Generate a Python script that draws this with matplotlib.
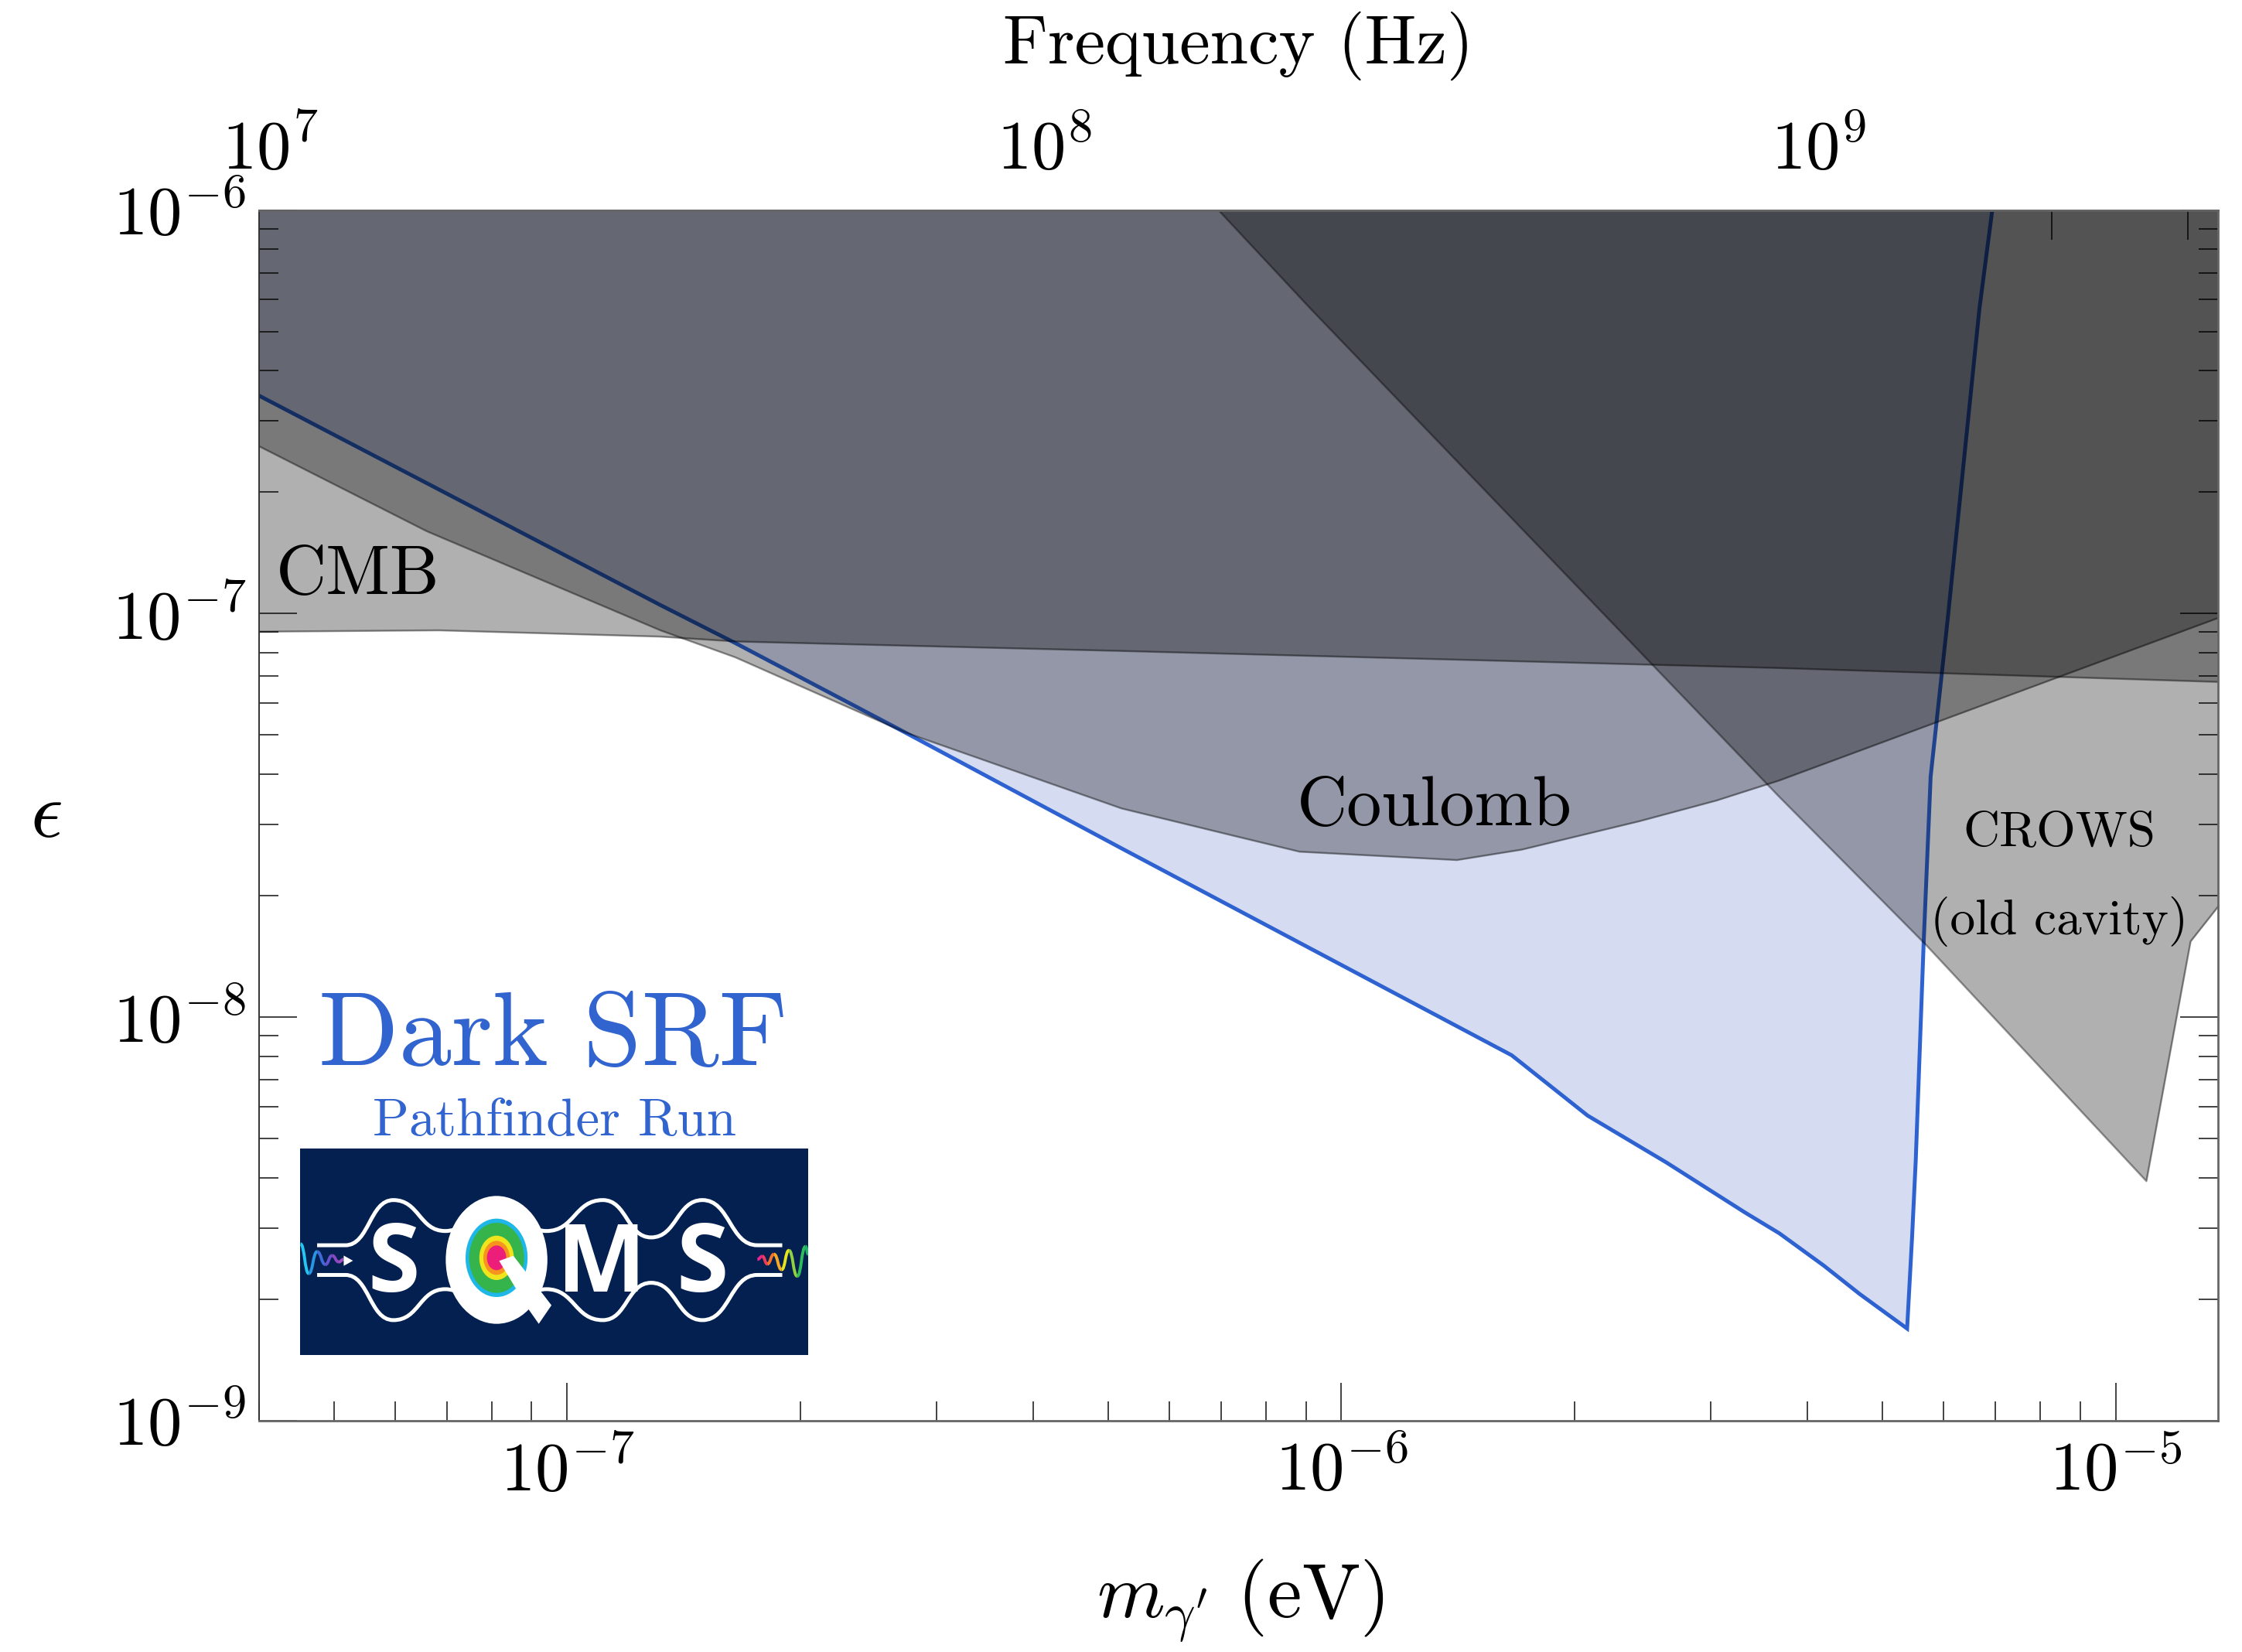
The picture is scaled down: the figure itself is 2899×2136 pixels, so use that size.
import numpy as np
import matplotlib.pyplot as plt
from matplotlib.patches import Ellipse, Polygon, Rectangle, PathPatch
from matplotlib.path import Path
from matplotlib.ticker import FixedLocator, NullFormatter, FuncFormatter

plt.rcParams['mathtext.fontset'] = 'cm'
plt.rcParams['font.family'] = ['cmr10', 'DejaVu Sans']
plt.rcParams['axes.formatter.use_mathtext'] = True

# --- data (dark photon mass in eV, kinetic mixing eps) ---
srf_m = [4.00e-8, 1.32e-7, 1.65e-7, 2.73e-7, 5.20e-7, 1.66e-6, 2.08e-6, 2.63e-6,
         3.32e-6, 3.68e-6, 4.20e-6, 4.67e-6, 5.38e-6, 5.46e-6, 5.52e-6, 5.65e-6,
         5.77e-6, 6.07e-6, 6.67e-6, 6.93e-6]
srf_eps = [3.47e-7, 1.05e-7, 8.45e-8, 5.08e-8, 2.62e-8, 8.04e-9, 5.70e-9, 4.36e-9,
           3.28e-9, 2.91e-9, 2.42e-9, 2.06e-9, 1.69e-9, 2.85e-9, 4.42e-9, 1.51e-8,
           3.95e-8, 9.69e-8, 5.69e-7, 1.00e-6]

cmb_m = [4.00e-8, 6.83e-8, 1.32e-7, 1.65e-7, 5.20e-7, 3.68e-6, 1.36e-5]
cmb_eps = [9.02e-8, 9.09e-8, 8.77e-8, 8.53e-8, 8.08e-8, 7.33e-8, 6.77e-8]

coul_m = [4.00e-8, 6.59e-8, 1.32e-7, 1.65e-7, 2.73e-7, 5.20e-7, 7.34e-7, 8.83e-7,
          1.41e-6, 1.71e-6, 2.43e-6, 3.05e-6, 3.68e-6, 1.36e-5]
coul_eps = [2.60e-7, 1.60e-7, 9.09e-8, 7.79e-8, 5.08e-8, 3.29e-8, 2.80e-8, 2.57e-8,
            2.45e-8, 2.60e-8, 3.06e-8, 3.44e-8, 3.86e-8, 9.77e-8]

crows_m = [6.94e-7, 9.14e-7, 3.67e-6, 5.69e-6, 1.096e-5, 1.25e-5, 1.36e-5]
crows_eps = [1.00e-6, 5.68e-7, 3.53e-8, 1.51e-8, 3.92e-9, 1.54e-8, 1.89e-8]

# tick positions
mass_major = [1e-7, 1e-6, 1e-5]
mass_minor = [m * 10.0**d for d in (-8, -7, -6) for m in range(2, 10)]
mass_minor = [v for v in mass_minor if 4.0e-8 <= v <= 1.355e-5]
eps_major = [1e-9, 1e-8, 1e-7, 1e-6]
eps_minor = [m * 10.0**d for d in (-9, -8, -7) for m in range(2, 10)]
freq_major = [1e7, 1e8, 1e9]
freq_minor = [m * 10.0**d for d in (7, 8, 9) for m in range(2, 10)]
freq_minor = [v for v in freq_minor if v <= 3.2e9]

h_eV = 4.135667e-15  # eV s


def m_to_f(m):
    return np.asarray(m) / h_eV


def f_to_m(f):
    return np.asarray(f) * h_eV


fig = plt.figure(figsize=(14.495, 10.68), dpi=200)
ax = fig.add_axes([0.11549, 0.14012, 0.87368, 0.73268])
ax.set_xscale('log')
ax.set_yscale('log')
ax.set_xlim(4.0e-8, 1.355e-5)
ax.set_ylim(1e-9, 1e-6)

top = 1e-5
ax.fill_between(srf_m, srf_eps, top, color='#d5dcf2', lw=0, zorder=1)
ax.plot(srf_m, srf_eps, color='#2d62d0', lw=1.8, zorder=2, solid_joinstyle='miter')

for mm, ee, z in [(cmb_m, cmb_eps, 3), (coul_m, coul_eps, 4), (crows_m, crows_eps, 5)]:
    ax.fill_between(mm, ee, top, color='black', alpha=0.31, lw=0, zorder=z)
    ax.plot(mm, ee, color='black', alpha=0.38, lw=0.9, zorder=z)

# labels on the regions
ax.text(0.00865, 0.6826, 'CMB', transform=ax.transAxes, fontsize=32.5,
        family='cmr10', va='baseline', ha='left', zorder=10)
ax.text(0.5298, 0.4920, 'Coulomb', transform=ax.transAxes, fontsize=32.5,
        family='cmr10', va='baseline', ha='left', zorder=10)
ax.text(0.9192, 0.4750, 'CROWS', transform=ax.transAxes, fontsize=23.5,
        family='cmr10', va='baseline', ha='center', zorder=10)
ax.text(0.9192, 0.4017, '(old cavity)', transform=ax.transAxes, fontsize=23.5,
        family='cmr10', va='baseline', ha='center', zorder=10)
ax.text(0.0304, 0.2939, 'Dark SRF', transform=ax.transAxes, fontsize=49,
        family='cmr10', color='#3164cf', va='baseline', ha='left', zorder=10)
ax.text(0.0580, 0.2354, 'Pathfinder Run', transform=ax.transAxes, fontsize=24.8,
        family='cmr10', color='#3164cf', va='baseline', ha='left', zorder=10)

# ticks
pow_fmt = FuncFormatter(lambda v, p: r'$10^{%d}$' % round(np.log10(v)))
ax.xaxis.set_major_locator(FixedLocator(mass_major))
ax.xaxis.set_major_formatter(pow_fmt)
ax.xaxis.set_minor_locator(FixedLocator(mass_minor))
ax.xaxis.set_minor_formatter(NullFormatter())
ax.yaxis.set_major_locator(FixedLocator(eps_major))
ax.yaxis.set_major_formatter(pow_fmt)
ax.yaxis.set_minor_locator(FixedLocator(eps_minor))
ax.yaxis.set_minor_formatter(NullFormatter())

tick_col = '#222222'
ax.tick_params(axis='x', which='major', direction='in', length=17.6, width=0.6,
               color=tick_col, top=False, pad=9, labelsize=32)
ax.tick_params(axis='x', which='minor', direction='in', length=9, width=0.6,
               color=tick_col, top=False)
ax.tick_params(axis='y', which='major', direction='in', length=17.5, width=0.6,
               color=tick_col, left=True, right=True, pad=6, labelsize=32)
ax.tick_params(axis='y', which='minor', direction='in', length=9, width=0.6,
               color=tick_col, left=True, right=True)

sec = ax.secondary_xaxis('top', functions=(m_to_f, f_to_m))
sec.xaxis.set_major_locator(FixedLocator(freq_major))
sec.xaxis.set_major_formatter(pow_fmt)
sec.xaxis.set_minor_locator(FixedLocator(freq_minor))
sec.xaxis.set_minor_formatter(NullFormatter())
sec.tick_params(which='major', direction='in', length=22.7, width=0.6,
                color=tick_col, pad=13, labelsize=32)
sec.tick_params(which='minor', direction='in', length=13.7, width=0.6, color=tick_col)

for s in ax.spines.values():
    s.set_color('#666666')
    s.set_linewidth(1.0)
    s.set_zorder(20)
ax.spines['left'].set_color('#333333')
ax.spines['left'].set_linewidth(0.7)
sec.spines['top'].set_color('#666666')
sec.spines['top'].set_linewidth(1.0)

# axis titles
fig.text(0.5523, 0.9618, 'Frequency (Hz)', fontsize=32, family='cmr10',
         ha='center', va='baseline')
fig.text(0.5531, 0.021, r"$m_{\gamma'}\ (\mathrm{eV})$", fontsize=36,
         ha='center', va='baseline')
fig.text(0.0204, 0.5053, r'$\epsilon$', fontsize=37, ha='center', va='center')

# --- SQMS logo ---
lg = fig.add_axes([0.13374, 0.17992, 0.22674, 0.12486])
lg.set_xlim(0, 1)
lg.set_ylim(0, 1)
lg.axis('off')
lg.add_patch(Rectangle((0, 0), 1, 1, color='#032050', lw=0))


def wave(axl, pts, **kw):
    verts = [pts[0]]
    codes = [Path.MOVETO]
    for (x0, y0), (x1, y1) in zip(pts[:-1], pts[1:]):
        xm = (x0 + x1) / 2
        verts += [(xm, y0), (xm, y1), (x1, y1)]
        codes += [Path.CURVE4] * 3
    axl.add_patch(PathPatch(Path(verts, codes), fill=False, **kw))


top_pts = [(0.034, 0.531), (0.0895, 0.531), (0.184, 0.75), (0.286, 0.60),
           (0.387, 0.75), (0.485, 0.60), (0.596, 0.75), (0.691, 0.569),
           (0.792, 0.75), (0.90, 0.531), (0.949, 0.531)]
bot_pts = [(x, 0.918 - y) for x, y in top_pts]
wave(lg, top_pts, edgecolor='white', lw=1.8)
wave(lg, bot_pts, edgecolor='white', lw=1.8)

left_sq = [(0.0013, 0.5375), (0.0176, 0.394), (0.034, 0.50), (0.0503, 0.4375),
           (0.0634, 0.481), (0.0765, 0.45), (0.0863, 0.4625)]
left_cols = ['#25c6f0', '#2a95e2', '#3f6ad6', '#6a50cc', '#8c48c4', '#a050c0']
for i, c in enumerate(left_cols):
    wave(lg, left_sq[i:i + 2], edgecolor=c, lw=1.4)
lg.add_patch(Polygon([(0.0863, 0.481), (0.0863, 0.431), (0.1046, 0.456)],
                     closed=True, color='white', lw=0))

right_sq = [(0.90, 0.4625), (0.9098, 0.4775), (0.9196, 0.44), (0.9327, 0.4875),
            (0.9477, 0.4125), (0.9621, 0.506), (0.9784, 0.381), (0.9948, 0.525),
            (1.0, 0.4875)]
right_cols = ['#e8258a', '#f03a5a', '#f6742a', '#f9a825', '#e6e21e', '#8fd13f',
              '#2ebd59', '#1fb36a']
for i, c in enumerate(right_cols):
    wave(lg, right_sq[i:i + 2], edgecolor=c, lw=1.4)

# Q with rainbow core
lg.add_patch(Ellipse((0.387, 0.46), 0.20, 0.62, color='white', lw=0))
for w, hh, c in [(0.122, 0.38, '#1fb6e8'), (0.108, 0.34, '#34b44a'),
                 (0.068, 0.215, '#f0e51c'), (0.052, 0.165, '#f7941d'),
                 (0.038, 0.12, '#ed1e79')]:
    lg.add_patch(Ellipse((0.387, 0.47), w, hh, color=c, lw=0))
lg.add_patch(Polygon([(0.392, 0.455), (0.42, 0.48), (0.495, 0.24), (0.47, 0.15),
                      (0.45, 0.22)], closed=True, color='white', lw=0))

for x, ch in [(0.184, 'S'), (0.594, 'M'), (0.792, 'S')]:
    lg.text(x, 0.305, ch, color='white', fontsize=44, fontweight='bold',
            family='Open Sans', ha='center', va='baseline')

fig.savefig('out.png', dpi=200)
